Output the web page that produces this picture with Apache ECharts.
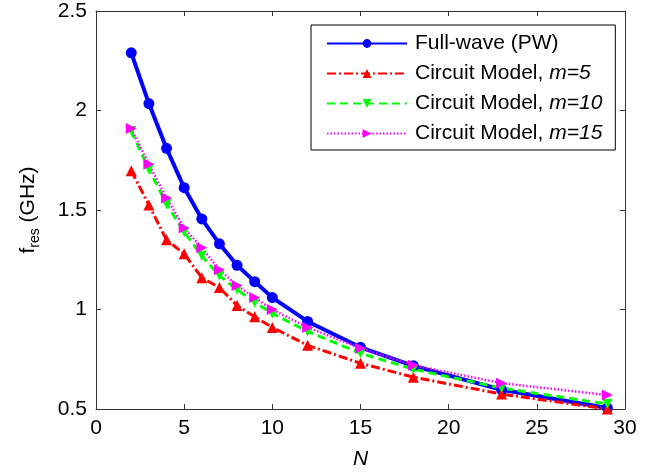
<!DOCTYPE html>
<html>
<head>
<meta charset="utf-8">
<script src="https://cdn.jsdelivr.net/npm/echarts@6/dist/echarts.min.js"></script>
<style>html,body{margin:0;padding:0;background:#fff}#c{width:660px;height:475px}</style>
</head>
<body>
<div id="c"></div>
<script>
const N = [2, 3, 4, 5, 6, 7, 8, 9, 10, 12, 15, 18, 23, 29];
const fullWave = [2.29, 2.035, 1.81, 1.612, 1.455, 1.33, 1.222, 1.14, 1.06, 0.94, 0.81, 0.717, 0.597, 0.505];
const circuitM5 = [1.697, 1.525, 1.35, 1.28, 1.16, 1.11, 1.02, 0.963, 0.91, 0.82, 0.73, 0.66, 0.575, 0.50];
const circuitM10 = [1.897, 1.705, 1.53, 1.39, 1.27, 1.17, 1.10, 1.035, 0.98, 0.89, 0.78, 0.70, 0.605, 0.525];
const circuitM15 = [1.91, 1.73, 1.56, 1.41, 1.31, 1.20, 1.12, 1.06, 1.0, 0.91, 0.805, 0.72, 0.63, 0.57];
const seriesNames = ['Full-wave (PW)', 'Circuit Model, m=5', 'Circuit Model, m=10', 'Circuit Model, m=15'];

const FONT = 'Liberation Sans, Arial, sans-serif';
const FS = 21;
const axisColor = '#333';

function pairs(ys) { return N.map((x, i) => [x, ys[i]]); }

const chart = echarts.init(document.getElementById('c'), null, {renderer: 'canvas'});

const baseAxis = {
  axisLine: {show: true, onZero: false, lineStyle: {color: axisColor, width: 1}},
  axisTick: {show: true, inside: true, length: 5, lineStyle: {color: axisColor, width: 1}},
  splitLine: {show: false}
};

const option = {
  animation: false,
  backgroundColor: '#fff',
  grid: {left: 96, right: 35, top: 11, bottom: 65, containLabel: false},
  xAxis: [
    Object.assign({}, baseAxis, {
      type: 'value', min: 0, max: 30, interval: 5, position: 'bottom',
      name: 'N', nameLocation: 'middle', nameGap: 40,
      nameTextStyle: {fontFamily: FONT, fontSize: FS, fontStyle: 'italic', color: '#000'},
      axisLabel: {fontFamily: FONT, fontSize: FS, color: '#000', margin: 9}
    }),
    Object.assign({}, baseAxis, {
      type: 'value', min: 0, max: 30, interval: 5, position: 'top',
      axisLabel: {show: false}
    })
  ],
  yAxis: [
    Object.assign({}, baseAxis, {
      type: 'value', min: 0.5, max: 2.5, interval: 0.5, position: 'left',
      name: '{a|f}{s|res}{a| (GHz)}', nameLocation: 'middle', nameGap: 54, nameRotate: 90,
      nameTextStyle: {
        fontFamily: FONT, color: '#000',
        rich: {
          a: {fontFamily: FONT, fontSize: FS, lineHeight: 24, verticalAlign: 'top', color: '#000'},
          s: {fontFamily: FONT, fontSize: 14, lineHeight: 14, verticalAlign: 'bottom', color: '#000'}
        }
      },
      axisLabel: {fontFamily: FONT, fontSize: FS, color: '#000', margin: 9}
    }),
    Object.assign({}, baseAxis, {
      type: 'value', min: 0.5, max: 2.5, interval: 0.5, position: 'right',
      axisLabel: {show: false}
    })
  ],
  legend: {
    show: true,
    orient: 'vertical',
    left: 311, top: 25,
    width: 304,
    backgroundColor: '#fff',
    borderColor: '#000', borderWidth: 1,
    padding: [8, 13, 6, 15],
    itemWidth: 80, itemHeight: 11, itemGap: 9,
    data: seriesNames,
    formatter: function (name) {
      if (name.indexOf('m=') >= 0) {
        const i = name.indexOf('m=');
        return '{n|' + name.slice(0, i) + '}{i|' + name.slice(i) + '}';
      }
      return '{n|' + name + '}';
    },
    textStyle: {
      fontFamily: FONT, fontSize: FS, color: '#000', padding: [0, 0, 0, 3], lineHeight: 20,
      rich: {
        n: {fontFamily: FONT, fontSize: FS, color: '#000', lineHeight: 20},
        i: {fontFamily: FONT, fontSize: FS, fontStyle: 'italic', color: '#000', lineHeight: 20}
      }
    }
  },
  series: [
    {
      name: seriesNames[0], type: 'line', data: pairs(fullWave), clip: false,
      symbol: 'circle', symbolSize: 11,
      lineStyle: {color: '#0000ff', width: 4, type: 'solid'},
      itemStyle: {color: '#0000ff'}
    },
    {
      name: seriesNames[1], type: 'line', data: pairs(circuitM5), clip: false,
      symbol: 'triangle', symbolSize: 11,
      lineStyle: {color: '#ff0000', width: 3, type: [9, 3, 2, 3]},
      itemStyle: {color: '#ff0000'}
    },
    {
      name: seriesNames[2], type: 'line', data: pairs(circuitM10), clip: false,
      symbol: 'triangle', symbolSize: 10, symbolRotate: 180,
      lineStyle: {color: '#00ff00', width: 3, type: [8, 5]},
      itemStyle: {color: '#00ff00'}
    },
    {
      name: seriesNames[3], type: 'line', data: pairs(circuitM15), clip: false,
      symbol: 'triangle', symbolSize: 11, symbolRotate: -90,
      lineStyle: {color: '#ff00ff', width: 2.5, type: [1.5, 2]},
      itemStyle: {color: '#ff00ff'}
    }
  ]
};
chart.setOption(option);
</script>
</body>
</html>
